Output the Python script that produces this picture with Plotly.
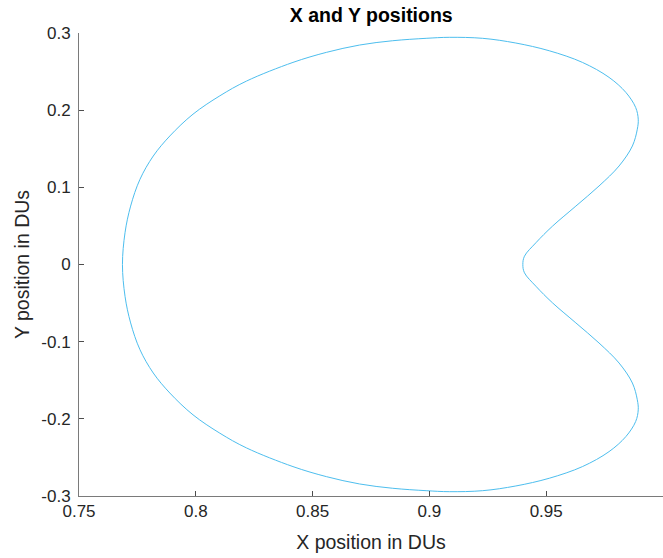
import plotly.graph_objects as go

# Orbit points (counter-clockwise, starting on the straight part of the S-curve)
x_pos = [0.9627, 0.9726, 0.9812, 0.9869, 0.9890, 0.9894,
         0.9883, 0.9841, 0.9769, 0.9655, 0.9513, 0.9370, 0.9228, 0.9085, 0.8986, 0.8843,
         0.8701, 0.8559, 0.8416, 0.8217, 0.8103, 0.7988, 0.7889, 0.7818, 0.7761,
         0.7721, 0.7697, 0.7686,
         0.7697, 0.7721, 0.7761, 0.7818, 0.7889, 0.7988, 0.8103, 0.8217, 0.8416,
         0.8559, 0.8701, 0.8843, 0.8986, 0.9085, 0.9228, 0.9370, 0.9513, 0.9655, 0.9769,
         0.9841, 0.9883, 0.9894, 0.9890, 0.9869, 0.9812, 0.9726, 0.9627, 0.9527, 0.9456,
         0.9407, 0.9400, 0.9407, 0.9456, 0.9527, 0.9627]
y_pos = [0.0757, 0.1017, 0.1277, 0.1536, 0.1753, 0.1883,
         0.2035, 0.2230, 0.2425, 0.2619, 0.2770, 0.2870, 0.2931, 0.2944, 0.2931, 0.2900,
         0.2844, 0.2749, 0.2619, 0.2377, 0.2186, 0.1948, 0.1666, 0.1406, 0.1104,
         0.0757, 0.0412, 0.0,
         -0.0412, -0.0757, -0.1104, -0.1406, -0.1666, -0.1948, -0.2186, -0.2377, -0.2619,
         -0.2749, -0.2844, -0.2900, -0.2931, -0.2944, -0.2931, -0.2870, -0.2770, -0.2619, -0.2425,
         -0.2230, -0.2035, -0.1883, -0.1753, -0.1536, -0.1277, -0.1017, -0.0757, -0.0497, -0.0282,
         -0.0108, 0.0, 0.0108, 0.0282, 0.0497, 0.0757]

x_ticks = [0.75, 0.8, 0.85, 0.9, 0.95, 1.0]
x_tick_labels = ["0.75", "0.8", "0.85", "0.9", "0.95", "1"]
y_ticks = [-0.3, -0.2, -0.1, 0.0, 0.1, 0.2, 0.3]
y_tick_labels = ["-0.3", "-0.2", "-0.1", "0", "0.1", "0.2", "0.3"]

fig = go.Figure()
fig.add_trace(go.Scatter(
    x=x_pos, y=y_pos, mode="lines",
    line=dict(color="#4DBEEE", width=1, shape="spline", smoothing=1.0),
    showlegend=False, hoverinfo="skip",
))

font_family = "Liberation Sans, Arial, Helvetica, sans-serif"
axis_common = dict(
    showline=True, linecolor="#7a7a7a", linewidth=1,
    ticks="inside", ticklen=5, tickwidth=1, tickcolor="#4d4d4d",
    showgrid=False, zeroline=False, mirror=False, automargin=False,
    tickfont=dict(family=font_family, size=17, color="#262626"),
)

fig.update_layout(
    width=663, height=558,
    margin=dict(l=79, r=0, t=33, b=62),
    paper_bgcolor="white", plot_bgcolor="white",
    title=dict(text="<b>X and Y positions</b>", x=0.56, xanchor="center",
               y=0.972, yanchor="middle",
               font=dict(family=font_family, size=19.5, color="black")),
    xaxis=dict(range=[0.75, 1.0], tickvals=x_ticks, ticktext=x_tick_labels,
               title=dict(text="X position in DUs", standoff=14,
                          font=dict(family=font_family, size=19.5, color="#262626")),
               **axis_common),
    yaxis=dict(range=[-0.3, 0.3], tickvals=y_ticks, ticktext=y_tick_labels,
               ticklabelstandoff=4,
               title=dict(text="Y position in DUs", standoff=6,
                          font=dict(family=font_family, size=19.5, color="#262626")),
               **axis_common),
)

fig.write_html("out.html", config={"displayModeBar": False},
               post_script="document.body.style.margin='0';document.body.style.overflow='hidden';")
